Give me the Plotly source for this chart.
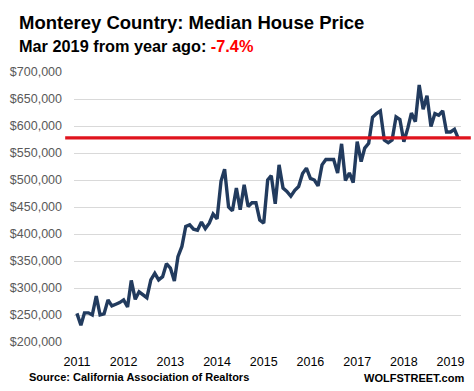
import pandas as pd
import plotly.graph_objects as go

# Monthly median house price, Jan 2011 .. Mar 2019 (thousand $)
months = pd.date_range("2011-01-01", "2019-03-01", freq="MS")
prices_k = [
    253, 231, 254, 254, 250, 285, 250, 252, 278, 267, 270, 273,   # 2011
    278, 265, 314, 279, 293, 288, 282, 315, 327, 315, 321, 345,   # 2012
    337, 313, 358, 377, 414, 417, 409, 407, 422, 410, 420, 437,   # 2013
    428, 498, 520, 450, 443, 485, 445, 491, 451, 458, 458, 426,   # 2014
    420, 500, 508, 456, 528, 485, 479, 470, 481, 488, 512, 522,   # 2015
    503, 500, 489, 528, 538, 538, 538, 513, 567, 499, 513, 495,   # 2016
    571, 534, 559, 568, 616, 623, 628, 574, 569, 574, 617, 612,   # 2017
    571, 596, 624, 608, 676, 631, 656, 599, 623, 620, 628, 589,   # 2018
    589, 594, 578,                                                # 2019
]
prices = [p * 1000 for p in prices_k]
latest = prices[-1]

year_ticks = [f"{y}-01-01" for y in range(2011, 2020)]
year_labels = [str(y) for y in range(2011, 2020)]
y_ticks = list(range(200000, 700001, 50000))
y_labels = [f"${v:,.0f}" for v in y_ticks]

title = "Monterey Country: Median House Price"
subtitle = "Mar 2019 from year ago: "
change = "-7.4%"
source = "Source: California Association of Realtors"
brand = "WOLFSTREET.com"

W, H = 474, 391
L, R, T, B = 69, 10, 72, 49
pw, ph = W - L - R, H - T - B

def px_x(x):
    return (x - L) / pw

def px_y(y):
    return (H - B - y) / ph

fig = go.Figure()
fig.add_trace(go.Scatter(
    x=months, y=prices, mode="lines",
    line=dict(color="#223B5E", width=3.4),
    hoverinfo="skip", showlegend=False,
))

fig.add_shape(type="line", xref="paper", yref="y",
              x0=px_x(60), x1=px_x(474), y0=latest, y1=latest,
              line=dict(color="#E0141E", width=3.2), layer="above")

font = "Liberation Sans, Arial, sans-serif"
fig.update_layout(
    width=W, height=H,
    margin=dict(l=L, r=R, t=T, b=B),
    paper_bgcolor="white", plot_bgcolor="white",
    font=dict(family=font),
    xaxis=dict(
        range=["2010-12-09", "2019-03-24"],
        tickvals=year_ticks, ticktext=year_labels,
        showgrid=False, zeroline=False, showline=False, ticks="",
        tickfont=dict(size=12.5, color="#000000"),
        ticklabelstandoff=10,
    ),
    yaxis=dict(
        range=[200000, 700000],
        tickvals=y_ticks, ticktext=y_labels,
        showgrid=True, gridcolor="#D9D9D9", gridwidth=1,
        zeroline=False, showline=False, ticks="",
        tickfont=dict(size=12.5, color="#595959"),
        ticklabelstandoff=11,
    ),
    annotations=[
        dict(text=f"<b>{title}</b>", xref="paper", yref="paper",
             x=px_x(11), y=px_y(22), xanchor="left", yanchor="middle",
             showarrow=False, font=dict(size=18.5, color="#000000")),
        dict(text=f"<b>{subtitle}<span style='color:#FF0000'>{change}</span></b>",
             xref="paper", yref="paper",
             x=px_x(11), y=px_y(46), xanchor="left", yanchor="middle",
             showarrow=False, font=dict(size=16.3, color="#000000")),
        dict(text=f"<b>{source}</b>", xref="paper", yref="paper",
             x=px_x(21), y=px_y(377), xanchor="left", yanchor="middle",
             showarrow=False, font=dict(size=11, color="#000000")),
        dict(text=f"<b>{brand}</b>", xref="paper", yref="paper",
             x=px_x(469), y=px_y(378), xanchor="right", yanchor="middle",
             showarrow=False, font=dict(size=11, color="#000000")),
    ],
)

fig.write_html("out.html", config={"displayModeBar": False},
               post_script="document.body.style.margin='0';")
